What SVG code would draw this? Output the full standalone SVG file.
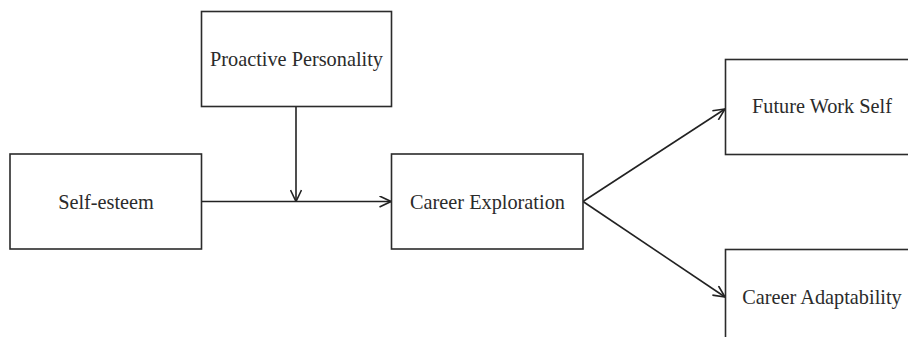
<svg xmlns="http://www.w3.org/2000/svg" width="908" height="337" viewBox="0 0 908 337">
<style>
.box{fill:#fff;stroke:#2b2b2b;stroke-width:1.6}
.lbl{font-family:"Liberation Serif","Times New Roman",serif;font-size:20.3px;fill:#2b2b2b;text-anchor:middle}
.edge{fill:none;stroke:#222;stroke-width:1.6}
</style>
<defs>
<marker id="arr" viewBox="0 0 13 12" refX="12.5" refY="6" markerWidth="13" markerHeight="12" markerUnits="userSpaceOnUse" orient="auto">
<path d="M1,0.5 L12.5,6 L1,11.5" fill="none" stroke="#222" stroke-width="1.6"/>
</marker>
</defs>
<rect width="908" height="337" fill="#fff"/>
<g id="connectors">
<line class="edge" x1="296" y1="106.5" x2="296" y2="201.5" marker-end="url(#arr)"/>
<line class="edge" x1="201.5" y1="201.5" x2="391" y2="201.5" marker-end="url(#arr)"/>
<line class="edge" x1="583" y1="201.5" x2="725" y2="109" marker-end="url(#arr)"/>
<line class="edge" x1="583" y1="201.5" x2="725" y2="297" marker-end="url(#arr)"/>
</g>
<g id="proactive">
<rect class="box" x="201.5" y="11.5" width="190" height="95"/>
<text class="lbl" x="296.5" y="65.5">Proactive Personality</text>
</g>
<g id="selfesteem">
<rect class="box" x="10" y="154" width="191.5" height="95"/>
<text class="lbl" x="106" y="208.5">Self-esteem</text>
</g>
<g id="exploration">
<rect class="box" x="391.5" y="154" width="191.5" height="95"/>
<text class="lbl" x="487.5" y="208.5">Career Exploration</text>
</g>
<g id="futurework">
<rect class="box" x="725.5" y="59.5" width="192" height="95"/>
<text class="lbl" x="822" y="112.5">Future Work Self</text>
</g>
<g id="adaptability">
<rect class="box" x="725.5" y="249.5" width="192" height="95"/>
<text class="lbl" x="822" y="304">Career Adaptability</text>
</g>
</svg>
